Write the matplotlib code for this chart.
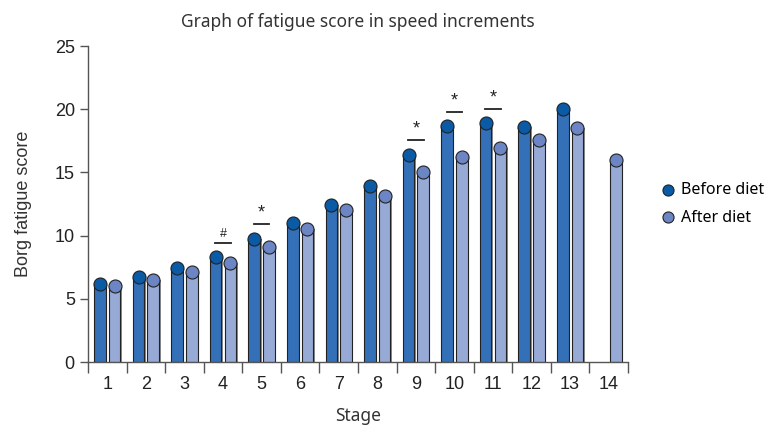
import numpy as np
import matplotlib.pyplot as plt

# data
stages = np.arange(1, 15)
before = [6.2, 6.75, 7.45, 8.3, 9.75, 11.0, 12.4, 13.95, 16.4, 18.65, 18.9, 18.6, 20.0, np.nan]
after = [6.05, 6.5, 7.15, 7.85, 9.1, 10.55, 12.05, 13.1, 15.05, 16.2, 16.9, 17.6, 18.5, 15.95]
sig_stages = [4, 5, 9, 10, 11]
sig_marks = ['#', '*', '*', '*', '*']

before = np.array(before)
after = np.array(after)

fig = plt.figure(figsize=(7.83, 4.37), dpi=100)
ax = fig.add_axes([0.1124, 0.1716, 0.6896, 0.7231])

off = 0.19
w = 0.30
dark_bar, dark_dot = '#3370b8', '#0b5aa6'
light_bar, light_dot = '#97aad5', '#6c86c5'

# shadow behind bars for the slight 3D look
ax.bar(stages - off + 0.04, before, w, color='#8a8a8a', zorder=1)
ax.bar(stages + off + 0.04, after, w, color='#8a8a8a', zorder=1)
ax.bar(stages - off, before, w, color=dark_bar, edgecolor='#222222', linewidth=0.8, zorder=2)
ax.bar(stages + off, after, w, color=light_bar, edgecolor='#222222', linewidth=0.8, zorder=2)
ax.scatter(stages - off, before, s=88, color=dark_dot, edgecolor='#222222', linewidth=0.8, zorder=3, label='Before diet')
ax.scatter(stages + off, after, s=88, color=light_dot, edgecolor='#222222', linewidth=0.8, zorder=3, label='After diet')

# significance marks
for st, mk in zip(sig_stages, sig_marks):
    y = before[st - 1] + 1.15
    ax.plot([st - 0.2, st + 0.2], [y, y], color='#222222', lw=1.3)
    ax.text(st, y + 0.2, mk, ha='center', va='bottom', fontsize=13 if mk == '*' else 9,
            family='Liberation Sans', color='#222222')

ax.set_xlim(0.5, 14.5)
ax.set_ylim(0, 25)
ax.set_yticks([0, 5, 10, 15, 20, 25])
ax.set_xticks(stages)
ax.set_xticks(np.arange(0.5, 15, 1), minor=True)
ax.tick_params(axis='x', which='major', length=0, pad=10)
ax.tick_params(axis='x', which='minor', length=8, color='#555555', width=1)
ax.tick_params(axis='y', length=6, color='#555555', width=1)
for lab in ax.get_xticklabels() + ax.get_yticklabels():
    lab.set_family('Liberation Sans')
    lab.set_fontsize(13)
    lab.set_color('#222222')
for s in ['top', 'right']:
    ax.spines[s].set_visible(False)
for s in ['left', 'bottom']:
    ax.spines[s].set_color('#555555')
    ax.spines[s].set_linewidth(1)

ax.set_title('Graph of fatigue score in speed increments', family='Noto Sans', fontsize=12.5,
             color='#333333', pad=14)
ax.set_xlabel('Stage', family='Noto Sans', fontsize=12.5, color='#333333', labelpad=10)
ax.set_ylabel('Borg fatigue score', family='Liberation Sans', fontsize=13, color='#333333', labelpad=16)

leg = ax.legend(loc='center left', bbox_to_anchor=(1.03, 0.5), frameon=False,
                prop={'family': 'Noto Sans', 'size': 11.5}, handletextpad=0.2,
                labelspacing=0.7, markerscale=0.85, handlelength=1.2)

fig.savefig('out.png', dpi=100)
